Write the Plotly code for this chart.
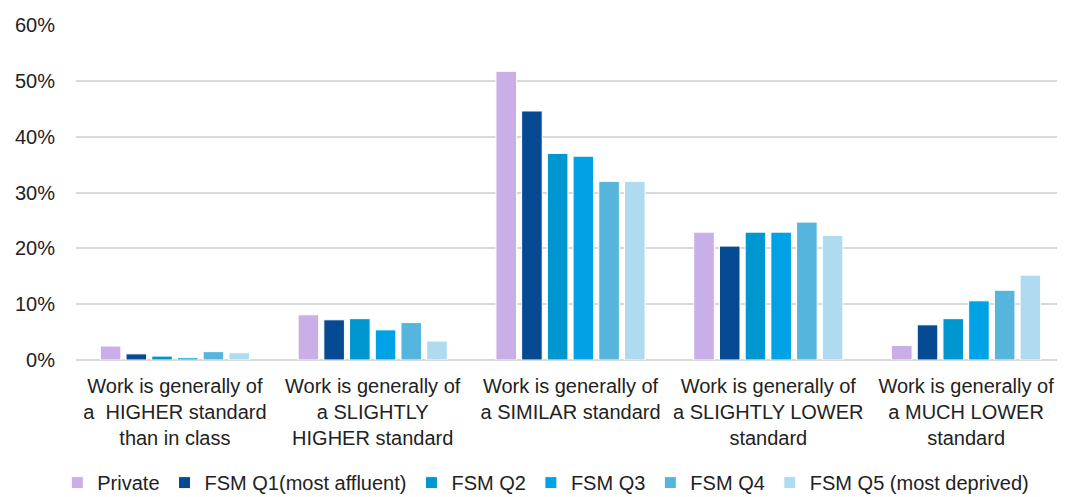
import plotly.graph_objects as go

categories = [
    "Work is generally of<br>a  HIGHER standard<br>than in class",
    "Work is generally of<br>a SLIGHTLY<br>HIGHER standard",
    "Work is generally of<br>a SIMILAR standard",
    "Work is generally of<br>a SLIGHTLY LOWER<br>standard",
    "Work is generally of<br>a MUCH LOWER<br>standard",
]

private = [2.5, 8.1, 51.7, 22.9, 2.6]
fsm_q1 = [1.1, 7.2, 44.6, 20.4, 6.3]
fsm_q2 = [0.7, 7.4, 37.0, 22.9, 7.4]
fsm_q3 = [0.4, 5.4, 36.5, 22.9, 10.6]
fsm_q4 = [1.5, 6.7, 32.0, 24.7, 12.5]
fsm_q5 = [1.3, 3.4, 32.0, 22.3, 15.2]

series_names = ["Private", "FSM Q1(most affluent)", "FSM Q2", "FSM Q3", "FSM Q4",
                "FSM Q5 (most deprived)"]
series_vals = [private, fsm_q1, fsm_q2, fsm_q3, fsm_q4, fsm_q5]
colors = ["#C9AEE7", "#064A93", "#0096CF", "#00A2E6", "#56B5DD", "#AEDBF0"]

fig = go.Figure()
for name, vals, col in zip(series_names, series_vals, colors):
    fig.add_trace(go.Bar(x=categories, y=vals, name=name,
                         marker=dict(color=col, line=dict(color="white", width=1))))

# page body has an 8px margin, so the figure is drawn a bit smaller
fig.update_layout(
    width=1057, height=489,
    margin=dict(l=68, r=0, t=17, b=137, autoexpand=False),
    plot_bgcolor="white", paper_bgcolor="white",
    font=dict(family="Liberation Sans, Arial, sans-serif", size=20, color="#222222"),
    barmode="group", bargap=0.22, bargroupgap=0.2,
    legend=dict(orientation="h", x=0.475, xanchor="center", y=-0.366, yanchor="middle",
                font=dict(size=20), itemwidth=30, tracegroupgap=0),
    showlegend=True,
)
fig.update_yaxes(range=[0, 60], dtick=10, ticksuffix="%", showgrid=True,
                 gridcolor="#D9D9D9", gridwidth=2, zeroline=True,
                 zerolinecolor="#D9D9D9", zerolinewidth=2, ticklabelstandoff=20,
                 automargin=False)
fig.update_xaxes(showline=False, tickfont=dict(size=20), ticklabelstandoff=12,
                 automargin=False)

fig.write_html("out.html")
